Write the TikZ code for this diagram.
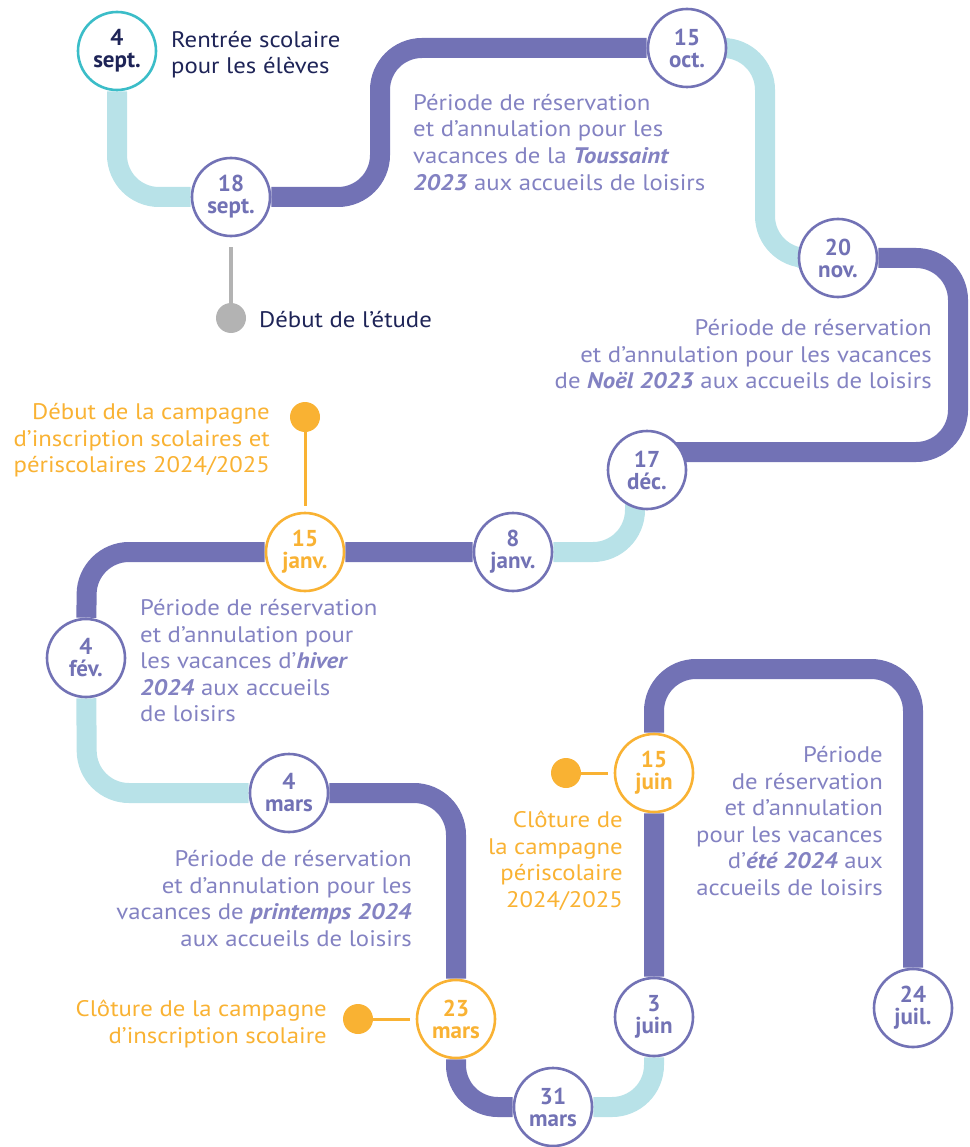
\documentclass[tikz,border=0pt]{standalone}
\usepackage{fontspec}
\setmainfont{PT Sans}[FakeStretch=1.1]
\newfontfamily\chiffres{PT Sans}
\usetikzlibrary{backgrounds}

\definecolor{parcours}{HTML}{7272B5}
\definecolor{ciel}{HTML}{B8E2E8}
\definecolor{sarcelle}{HTML}{3BBDC8}
\definecolor{soleil}{HTML}{F9B233}
\definecolor{encre}{HTML}{1E2457}
\definecolor{lilas}{HTML}{8382C2}
\definecolor{cendre}{HTML}{B3B3B3}

\begin{document}
\begin{tikzpicture}[x=1pt, y=-1pt]
	\tikzstyle{jour}     = [circle, minimum size=78pt, inner sep=0pt, line width=2.6pt, draw=parcours, fill=white, text=parcours, align=center, font=\chiffres\bfseries\fontsize{23}{22}\selectfont]
	\tikzstyle{pastille} = [circle, minimum size=30pt, inner sep=0pt, fill=soleil]
	\tikzstyle{chemin}   = [line width=20pt, rounded corners=42pt]
	\tikzstyle{texte}    = [inner sep=0pt, text=lilas, font=\fontsize{22.5}{26.6}\selectfont]

	\useasboundingbox (0,0) rectangle (969,1147);
%	\draw[step=50pt, gray!30] (0,0) grid (969,1147);

	\node[jour, draw=sarcelle, text=encre] (s4) at (117,51) {4\\sept.};

	\foreach \nom/\x/\y/\txt in {s18/231/197/{18\\sept.}, o15/687/48/{15\\oct.}, n20/838/258/{20\\nov.}, d17/647/470/{17\\déc.}, j8/513/552/{8\\janv.}, f4/86/658/{4\\fév.}, m4/289/793/{4\\mars}, m31/553/1107/{31\\mars}, ju3/654/1017/{3\\juin}, jl24/913/1008/{24\\juil.}}
		\node[jour] (\nom) at (\x,\y) {\txt};

	\foreach \nom/\x/\y/\txt in {j15/305/552/{15\\janv.}, m23/456/1019/{23\\mars}, ju15/654/773/{15\\juin}}
		\node[jour, draw=soleil, text=soleil] (\nom) at (\x,\y) {\txt};

	\begin{scope}[on background layer]
		\draw[chemin, ciel] (s4) -- (117,197) -- (s18);
		\draw[chemin, parcours] (s18) -- (380,197) -- (380,48) -- (o15);
		\draw[chemin, ciel] (o15) -- (765,48) -- (765,258) -- (n20);
		\draw[chemin, parcours] (n20) -- (958,258) -- (958,452) -- (d17 |- 0,452);
		\draw[chemin, ciel] (d17 -| 635,0) -- (635,552) -- (j8);
		\draw[chemin, parcours] (j8) -- (j15) -- (87,552) -- (f4);
		\draw[chemin, ciel] (f4) -- (87,793) -- (m4);
		\draw[chemin, parcours] (m4) -- (456,793) -- (m23) -- (456,1107) -- (m31);
		\draw[chemin, ciel] (m31) -- (654,1107) -- (ju3);
		\draw[chemin, parcours] (ju3) -- (ju15) -- (654,669) -- (913,669) -- (jl24);
	\end{scope}

	\node[pastille] (pj15) at (305,417) {};
	\node[pastille] (pm23) at (358,1019) {};
	\node[pastille] (pju15) at (566,773) {};
	\node[pastille, fill=cendre] (ps18) at (231,318) {};

	\foreach \from/\to in {pj15/j15, pm23/m23, pju15/ju15}
		\draw[soleil, line width=3pt, shorten >=6pt] (\from) -- (\to);
	\draw[cendre, line width=4pt, shorten <=10pt] (s18) -- (ps18);

	\node[texte, text=encre, anchor=north west, align=left] (rentree) at (171,31) {Rentrée scolaire\\pour les élèves};
	\node[texte, text=encre, anchor=base west] (etude) at (259,327) {Début de l’étude};
	\node[texte, anchor=north west, align=left] (toussaint) at (413,94) {Période de réservation\\et d’annulation pour les\\vacances de la \textbf{\textit{Toussaint}}\\\textbf{\textit{2023}} aux accueils de loisirs};
	\node[texte, anchor=north east, align=right] (noel) at (932,319) {Période de réservation\\et d’annulation pour les vacances\\de \textbf{\textit{Noël 2023}} aux accueils de loisirs};
	\node[texte, text=soleil, anchor=north east, align=right] (campagne) at (270,403) {Début de la campagne\\d’inscription scolaires et\\périscolaires 2024/2025};
	\node[texte, anchor=north west, align=left] (hiver) at (140,599) {Période de réservation\\et d’annulation pour\\les vacances d’\textbf{\textit{hiver}}\\\textbf{\textit{2024}} aux accueils\\de loisirs};
	\node[texte, anchor=north east, align=right] (printemps) at (412,850) {Période de réservation\\et d’annulation pour les\\vacances de \textbf{\textit{printemps 2024}}\\aux accueils de loisirs};
	\node[texte, text=soleil, anchor=north east, align=right] (scolaire) at (327,1000) {Clôture de la campagne\\d’inscription scolaire};
	\node[texte, text=soleil, anchor=north east, align=right] (periscolaire) at (623,811) {Clôture de\\la campagne\\périscolaire\\2024/2025};
	\node[texte, anchor=north east, align=right] (ete) at (883,746) {Période\\de réservation\\et d’annulation\\pour les vacances\\d’\textbf{\textit{été 2024}} aux\\accueils de loisirs};

\end{tikzpicture}
\end{document}
